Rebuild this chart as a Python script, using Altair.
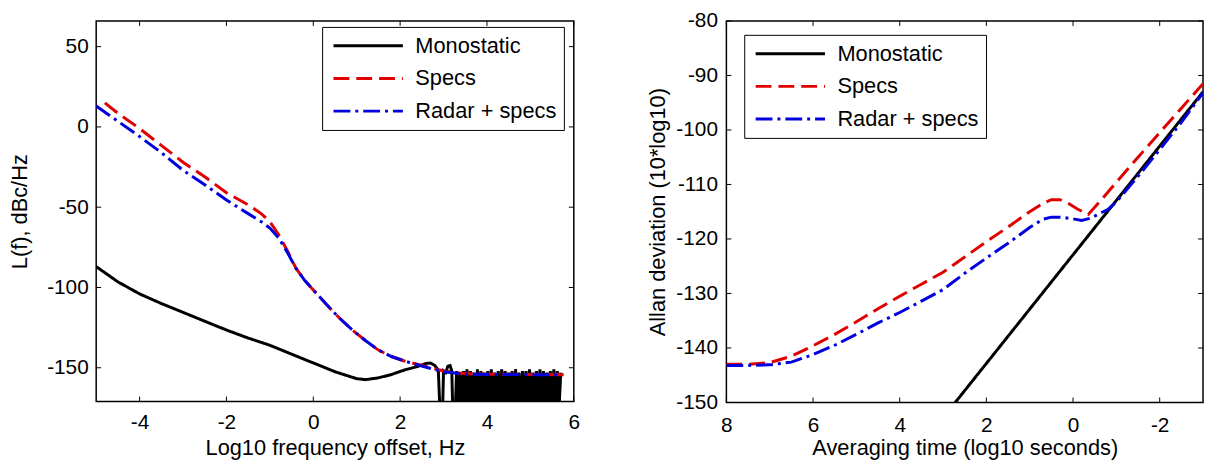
import altair as alt
import pandas as pd

FONT = "Liberation Sans"
SERIES = ["Monostatic", "Specs", "Radar + specs"]
COLORS = ["#000000", "#e00000", "#0000e0"]
DASHES = [[1, 0], [16, 7], [17, 5, 3, 5]]

# ---------------- Left panel: phase noise ----------------
mono_l_x = [-5.0, -4.5, -4.0, -3.5, -3.0, -2.5, -2.0, -1.5, -1.0, -0.5, 0.0, 0.5, 1.0, 1.2,
            1.5, 1.8, 2.1, 2.4, 2.6, 2.7, 2.8, 2.88, 2.93, 2.97, 3.0, 3.05, 3.1, 3.15, 3.19,
            3.22, 3.26,
            3.30, 3.34, 3.38, 3.42, 3.46, 3.50, 3.54, 3.58, 3.62, 3.66, 3.70, 3.74, 3.78,
            3.82, 3.86, 3.90, 3.94, 3.98, 4.02, 4.06, 4.10, 4.14, 4.18, 4.22, 4.26, 4.30,
            4.34, 4.38, 4.42, 4.46, 4.50, 4.54, 4.58, 4.62, 4.66, 4.70, 4.74, 4.78, 4.82,
            4.86, 4.90, 4.94, 4.98, 5.02, 5.06, 5.10, 5.14, 5.18, 5.22, 5.26, 5.30, 5.34,
            5.38, 5.42, 5.46, 5.50, 5.54, 5.58, 5.62, 5.66, 5.70]
mono_l_y = [-87, -96.5, -104, -110, -115.5, -121, -126.5, -131.5, -136, -141.5, -147, -152.5,
            -156.8, -157.4, -156.3, -154.2, -151.4, -149.2, -147.3, -147.1, -148.6, -151.6,
            -185, -185, -152, -153, -149, -148.6, -152, -185, -185,
            -152, -174, -153, -175, -152, -173, -151, -176, -152, -174, -153, -175, -151,
            -173, -152, -176, -153, -174, -152, -175, -151, -173, -153, -176, -152, -174,
            -151, -175, -152, -173, -153, -176, -152, -174, -151, -175, -153, -173, -152,
            -176, -152, -174, -151, -175, -153, -173, -152, -176, -151, -174, -152, -175,
            -153, -173, -152, -176, -151, -174, -152, -175, -153, -180]

specs_l_x = [-4.8, -4.5, -4.0, -3.5, -3.0, -2.5, -2.0, -1.5, -1.2, -1.0, -0.8, -0.6, -0.4,
             -0.2, 0.0, 0.3, 0.6, 0.9, 1.2, 1.5, 1.8, 2.1, 2.5, 3.0, 3.5, 4.0, 5.0, 5.8]
specs_l_y = [15, 8.5, -1, -11.5, -22, -31, -41, -48.5, -54, -59, -67, -77, -88,
             -95.5, -101.5, -110.5, -119, -126.5, -133, -139, -143, -145.8, -148.6, -152,
             -153.7, -154, -154.2, -154.3]

radar_l_x = [-5.0, -4.5, -4.0, -3.5, -3.0, -2.5, -2.0, -1.5, -1.2, -1.0, -0.8, -0.6, -0.4,
             -0.2, 0.0, 0.3, 0.6, 0.9, 1.2, 1.5, 1.8, 2.1, 2.5, 3.0, 3.5, 4.0, 5.0, 5.65]
radar_l_y = [13, 3.5, -6, -16, -27, -36, -45.5, -54, -59, -63, -69, -78, -88,
             -95.5, -101.5, -110.5, -119, -126.5, -133, -139, -143, -145.8, -149, -152.5,
             -154, -154.2, -154.3, -154.3]

# ---------------- Right panel: Allan deviation ----------------
mono_r_x = [3.2, -3.0]
mono_r_y = [-154.8, -93.0]

specs_r_x = [8.0, 7.5, 7.0, 6.5, 6.0, 5.5, 5.0, 4.5, 4.0, 3.5, 3.0, 2.5, 2.0, 1.5, 1.0, 0.7,
             0.5, 0.3, 0.1, -0.1, -0.35, -0.5, -0.7, -1.0, -1.5, -2.0, -2.5, -3.0]
specs_r_y = [-143, -143, -142.7, -141.5, -139.6, -137.5, -135.2, -132.8, -130.5, -128.3,
             -126.1, -123.3, -120.5, -117.8, -115, -113.5, -112.8, -112.8, -113.5, -114.5,
             -115.5, -114.2, -112.4, -109.6, -105, -100.5, -96, -91.5]

radar_r_x = [8.0, 7.5, 7.0, 6.5, 6.0, 5.5, 5.0, 4.5, 4.0, 3.5, 3.0, 2.5, 2.0, 1.5, 1.0, 0.7,
             0.5, 0.3, 0.0, -0.2, -0.4, -0.6, -0.8, -1.0, -1.5, -2.0, -2.5, -3.0]
radar_r_y = [-143.2, -143.2, -143.1, -142.6, -141.2, -139.5, -137.5, -135.4, -133.5, -131.4,
             -129.3, -126.3, -123.5, -120.8, -117.9, -116.4, -116, -116, -116.3, -116.6,
             -116.2, -115.4, -114.6, -113.2, -108.5, -103.6, -98.6, -93.2]

left_xticks = [-4, -2, 0, 2, 4, 6]
left_yticks = [-150, -100, -50, 0, 50]
right_xticks = [8, 6, 4, 2, 0, -2]
right_yticks = [-150, -140, -130, -120, -110, -100, -90, -80]


def frame(xs_list, ys_list):
    rows = []
    for name, xs, ys in zip(SERIES, xs_list, ys_list):
        for i, (x, y) in enumerate(zip(xs, ys)):
            rows.append({"series": name, "x": x, "y": y, "i": i})
    return pd.DataFrame(rows)


def make_panel(df, xticks, yticks, W, H, xscale, yscale, xaxis, yaxis, legx, legy):
    leg = alt.Legend(title=None, orient="none", legendX=legx, legendY=legy,
                     symbolType="stroke", symbolSize=4900, symbolStrokeWidth=3,
                     clipHeight=24, rowPadding=9, padding=7, symbolOffset=3,
                     labelOffset=11, labelFontSize=22, labelFont=FONT, labelColor="black",
                     labelLimit=400, fillColor="white", strokeColor="black")
    lines = alt.Chart(df).mark_line(clip=True, strokeWidth=3).encode(
        x=alt.X("x:Q", scale=xscale, axis=xaxis),
        y=alt.Y("y:Q", scale=yscale, axis=yaxis),
        color=alt.Color("series:N", scale=alt.Scale(domain=SERIES, range=COLORS),
                        legend=leg, sort=SERIES),
        strokeDash=alt.StrokeDash("series:N", scale=alt.Scale(domain=SERIES, range=DASHES),
                                  legend=leg, sort=SERIES),
        order="i:Q",
    )
    xdf = pd.DataFrame({"x": xticks})
    ydf = pd.DataFrame({"y": yticks})
    base_x = alt.Chart(xdf).mark_rule(color="black", strokeWidth=1)
    base_y = alt.Chart(ydf).mark_rule(color="black", strokeWidth=1)
    X = alt.X("x:Q", scale=xscale, axis=xaxis)
    Y = alt.Y("y:Q", scale=yscale, axis=yaxis)
    bx = base_x.encode(x=X, y=alt.value(H), y2=alt.value(H - 5))
    tx = base_x.encode(x=X, y=alt.value(0), y2=alt.value(5))
    ly = base_y.encode(y=Y, x=alt.value(0), x2=alt.value(5))
    ry = base_y.encode(y=Y, x=alt.value(W), x2=alt.value(W - 5))
    return alt.layer(lines, bx, tx, ly, ry).properties(width=W, height=H)


# Left
LW, LH = 482, 384
lxs = alt.Scale(domain=[-5, 6], nice=False, zero=False)
lys = alt.Scale(domain=[-171, 66], nice=False, zero=False)
lxa = alt.Axis(values=left_xticks, title="Log10 frequency offset, Hz", labelPadding=10,
               titlePadding=6, labelFlush=False, labelOverlap=False,
               labelExpr="toString(datum.value)")
lya = alt.Axis(values=left_yticks, title="L(f), dBc/Hz", labelPadding=8, titlePadding=15,
               minExtent=50, maxExtent=50, labelExpr="toString(datum.value)")
left = make_panel(frame([mono_l_x, specs_l_x, radar_l_x], [mono_l_y, specs_l_y, radar_l_y]),
                  left_xticks, left_yticks, LW, LH, lxs, lys, lxa, lya, 228, 6)

# Right
RW, RH = 481, 385
rxs = alt.Scale(domain=[-3, 8], reverse=True, nice=False, zero=False)
rys = alt.Scale(domain=[-150, -80], nice=False, zero=False)
rxa = alt.Axis(values=right_xticks, title="Averaging time (log10 seconds)", labelPadding=12,
               titlePadding=3, labelFlush=False, labelOverlap=False,
               labelExpr="toString(datum.value)")
rya = alt.Axis(values=right_yticks, title="Allan deviation (10*log10)", labelPadding=9,
               titlePadding=6, minExtent=51, maxExtent=51, labelExpr="toString(datum.value)")
right = make_panel(frame([mono_r_x, specs_r_x, radar_r_x], [mono_r_y, specs_r_y, radar_r_y]),
                   right_xticks, right_yticks, RW, RH, rxs, rys, rxa, rya, 18, 14)

chart = alt.hconcat(left, right, spacing=154, bounds="flush").resolve_scale(
    color="independent", strokeDash="independent"
).resolve_legend(color="independent", strokeDash="independent").properties(
    padding={"left": 0, "top": -1, "right": 0, "bottom": 0}
).configure_view(stroke="black", strokeWidth=1.5).configure_axis(
    labelFont=FONT, titleFont=FONT, labelFontSize=21, titleFontSize=22,
    labelColor="black", titleColor="black", titleFontWeight="normal",
    grid=False, domain=False, ticks=False, tickSize=0
)

chart.save("out.html", embed_options={"renderer": "svg", "actions": False})
